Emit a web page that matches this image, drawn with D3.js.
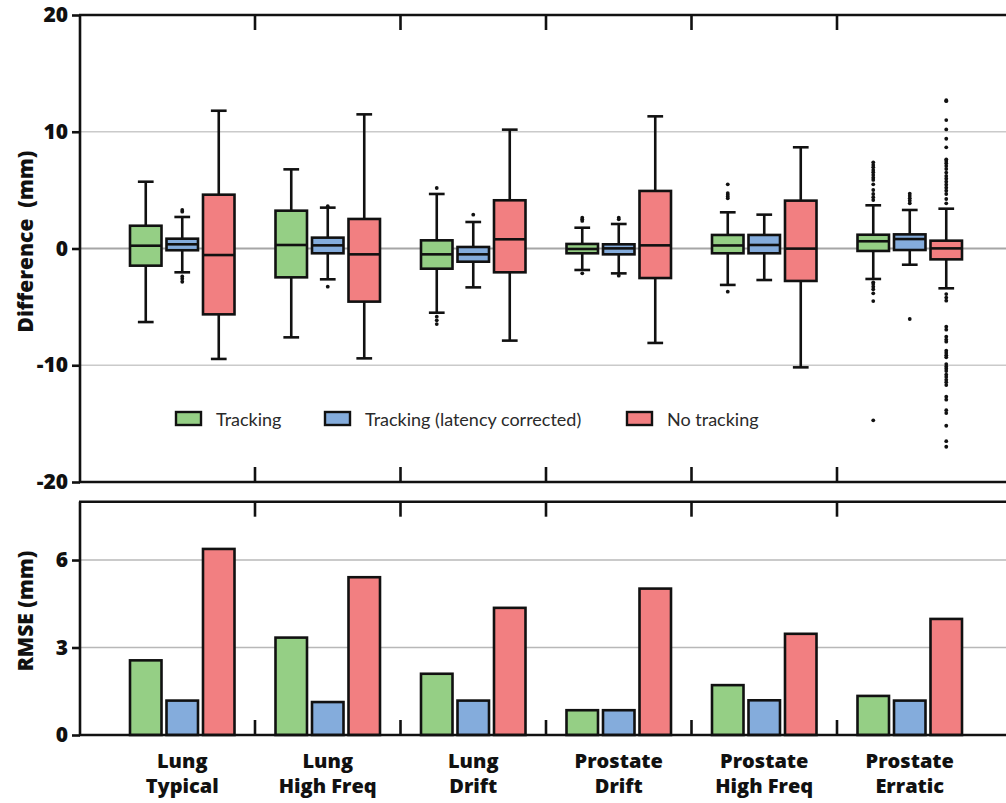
<!DOCTYPE html>
<html>
<head>
<meta charset="utf-8">
<script src="https://cdn.jsdelivr.net/npm/d3@7/dist/d3.min.js"></script>
<style>
  html, body { margin: 0; padding: 0; background: #fff; }
  svg { display: block; font-family: Lato, "Open Sans", sans-serif; }
  .heavy { font-family: "Open Sans", Lato, sans-serif; font-weight: 800; }
</style>
</head>
<body>
<svg id="chart" width="1006" height="803"></svg>
<script>
// ---- data ----
const categoryTop = ["Lung", "Lung", "Lung", "Prostate", "Prostate", "Prostate"];
const categoryBottom = ["Typical", "High Freq", "Drift", "Drift", "High Freq", "Erratic"];
const categories = categoryTop.map((t, i) => t + " " + categoryBottom[i]);
const seriesNames = ["Tracking", "Tracking (latency corrected)", "No tracking"];
const seriesColors = ["#95cf85", "#84acdc", "#f27f81"];

// box summaries per category: [lower whisker, Q1, median, Q3, upper whisker]
const trackingBox = [
  [-6.30, -1.47, 0.24, 1.95, 5.72],
  [-7.61, -2.47, 0.30, 3.24, 6.78],
  [-5.50, -1.73, -0.50, 0.70, 4.67],
  [-1.84, -0.41, -0.04, 0.39, 1.78],
  [-3.12, -0.41, 0.26, 1.16, 3.10],
  [-2.61, -0.21, 0.62, 1.18, 3.70]
];
const latencyBox = [
  [-2.04, -0.15, 0.36, 0.84, 2.70],
  [-2.64, -0.41, 0.27, 0.93, 3.50],
  [-3.33, -1.13, -0.50, 0.13, 2.27],
  [-2.13, -0.50, 0.01, 0.36, 2.10],
  [-2.70, -0.41, 0.30, 1.16, 2.90],
  [-1.39, -0.13, 0.81, 1.21, 3.30]
];
const noTrackingBox = [
  [-9.46, -5.64, -0.56, 4.61, 11.80],
  [-9.41, -4.55, -0.50, 2.53, 11.49],
  [-7.89, -2.04, 0.79, 4.13, 10.18],
  [-8.09, -2.53, 0.27, 4.93, 11.32],
  [-10.18, -2.78, -0.01, 4.10, 8.67],
  [-3.41, -0.93, 0.01, 0.67, 3.41]
];

// outlying points per category
const trackingOutliers = [
  [],
  [],
  [5.18, -5.84, -6.15, -6.47],
  [2.64, 2.50, 2.36, -2.13],
  [5.50, 4.75, 4.60, 4.45, 4.30, -3.70],
  [7.38, 7.15, 6.95, 6.72, 6.53, 6.30, 6.06, 5.87, 5.50, 5.01, 4.67, 4.39, 4.15,
   -2.90, -3.04, -3.27, -3.50, -3.84, -4.50, -14.72]
];
const latencyOutliers = [
  [3.30, 3.15, -2.40, -2.60, -2.85],
  [3.62, -3.27],
  [2.90],
  [2.64, 2.50, -2.33],
  [],
  [4.69, 4.50, 4.30, 4.10, 3.87, -6.04]
];
const noTrackingOutliers = [
  [],
  [],
  [],
  [],
  [],
  [12.70, 12.62, 11.00, 10.20, 9.40, 8.67, 7.64, 7.50, 7.30, 7.07, 6.81, 6.50, 6.21, 5.98,
   5.72, 5.46, 5.21, 4.95, 4.67, 4.24, 3.87,
   -3.90, -4.20, -4.47, -6.70, -6.95, -7.55, -7.80, -7.98, -8.75, -8.95, -9.15, -9.32,
   -9.90, -10.10, -10.30, -10.50, -10.80, -11.00, -11.25, -11.45, -11.70, -12.70, -12.95,
   -13.85, -14.10, -15.18, -16.50, -16.98]
];

// root mean square error per category
const trackingRmse = [2.56, 3.34, 2.10, 0.85, 1.71, 1.34];
const latencyRmse = [1.18, 1.13, 1.18, 0.85, 1.19, 1.18];
const noTrackingRmse = [6.38, 5.41, 4.36, 5.02, 3.47, 3.98];

const diffTicks = [-20, -10, 0, 10, 20];
const rmseTicks = [0, 3, 6];

const boxes = [trackingBox, latencyBox, noTrackingBox];
const outliers = [trackingOutliers, latencyOutliers, noTrackingOutliers];
const rmse = [trackingRmse, latencyRmse, noTrackingRmse];

// ---- layout ----
const svg = d3.select("#chart");
const W = 1006;
const axisX = 80;
const AXIS_W = 2.6;

const x = d3.scaleBand().domain(categories).range([109.5, 982.5]).padding(0);
const sub = d3.scaleBand().domain(seriesNames)
  .range([18, 127.5]).paddingInner(0.137).paddingOuter(0.0685);
const bw = sub.bandwidth();

const yTop = d3.scaleLinear().domain([-20, 20]).range([482, 15]);
const yBot = d3.scaleLinear().domain([0, 8]).range([735, 501.7]);

const boundaries = categories.slice(1).map(c => x(c));

// ---- upper panel: differences ----
const diffPanel = svg.append("g");

// grid lines
diffPanel.selectAll("line.grid").data([-10, 10]).join("line")
  .attr("x1", axisX).attr("x2", W)
  .attr("y1", d => yTop(d)).attr("y2", d => yTop(d))
  .attr("stroke", "#cacaca").attr("stroke-width", 1.3);
diffPanel.append("line")
  .attr("x1", axisX).attr("x2", W)
  .attr("y1", yTop(0)).attr("y2", yTop(0))
  .attr("stroke", "#a6a6a6").attr("stroke-width", 1.8);

// box plots
seriesNames.forEach((s, si) => {
  const g = diffPanel.append("g");
  categories.forEach((c, ci) => {
    const [lo, q1, med, q3, hi] = boxes[si][ci];
    const cx = x(c) + sub(s) + bw / 2;
    const capW = bw * 0.5;
    const gg = g.append("g")
      .attr("stroke", "#111").attr("stroke-width", 2.6).attr("fill", "none");
    gg.append("line").attr("x1", cx).attr("x2", cx).attr("y1", yTop(hi)).attr("y2", yTop(q3));
    gg.append("line").attr("x1", cx).attr("x2", cx).attr("y1", yTop(q1)).attr("y2", yTop(lo));
    gg.append("line").attr("x1", cx - capW / 2).attr("x2", cx + capW / 2)
      .attr("y1", yTop(hi)).attr("y2", yTop(hi));
    gg.append("line").attr("x1", cx - capW / 2).attr("x2", cx + capW / 2)
      .attr("y1", yTop(lo)).attr("y2", yTop(lo));
    gg.append("rect")
      .attr("x", cx - bw / 2).attr("width", bw)
      .attr("y", yTop(q3)).attr("height", yTop(q1) - yTop(q3))
      .attr("fill", seriesColors[si]);
    gg.append("line").attr("x1", cx - bw / 2).attr("x2", cx + bw / 2)
      .attr("y1", yTop(med)).attr("y2", yTop(med));
    g.selectAll(null).data(outliers[si][ci]).join("circle")
      .attr("cx", cx).attr("cy", d => yTop(d)).attr("r", 1.9).attr("fill", "#111");
  });
});

// frame and axes
diffPanel.append("line").attr("x1", axisX - 1).attr("x2", W).attr("y1", 15).attr("y2", 15)
  .attr("stroke", "#111").attr("stroke-width", AXIS_W);
diffPanel.append("line").attr("x1", axisX - 1).attr("x2", W).attr("y1", 482).attr("y2", 482)
  .attr("stroke", "#111").attr("stroke-width", AXIS_W);
diffPanel.selectAll("line.tt").data(boundaries).join("line")
  .attr("x1", d => d).attr("x2", d => d).attr("y1", 15).attr("y2", 30)
  .attr("stroke", "#111").attr("stroke-width", AXIS_W);
diffPanel.selectAll("line.tb").data(boundaries).join("line")
  .attr("x1", d => d).attr("x2", d => d).attr("y1", 482).attr("y2", 467)
  .attr("stroke", "#111").attr("stroke-width", AXIS_W);

const yAxisTop = d3.axisLeft(yTop).tickValues(diffTicks).tickSize(8).tickPadding(4)
  .tickFormat(d => String(d));
const gyt = diffPanel.append("g").attr("transform", `translate(${axisX},0)`).call(yAxisTop);
gyt.select(".domain").attr("stroke", "#111").attr("stroke-width", AXIS_W)
  .attr("d", `M0,${yTop(20)}V${yTop(-20)}`);
gyt.selectAll(".tick line").attr("stroke", "#111").attr("stroke-width", AXIS_W);
gyt.selectAll(".tick text").attr("class", "heavy").attr("font-size", 21).attr("fill", "#111");

diffPanel.append("text").attr("class", "heavy")
  .attr("transform", `translate(33,${yTop(0) - 7}) rotate(-90)`)
  .attr("text-anchor", "middle").attr("font-size", 21)
  .attr("fill", "#111").style("white-space", "pre")
  .text("Difference  (mm)");

// legend
const legendX = [176, 325, 627];
const legend = diffPanel.append("g");
seriesNames.forEach((s, i) => {
  legend.append("rect").attr("x", legendX[i]).attr("y", 412).attr("width", 25).attr("height", 13)
    .attr("fill", seriesColors[i]).attr("stroke", "#111").attr("stroke-width", 2.4);
  legend.append("text").attr("x", legendX[i] + 40).attr("y", 426)
    .attr("font-size", 18).attr("fill", "#2a2a2a").text(s);
});

// ---- lower panel: RMSE ----
const rmsePanel = svg.append("g");
rmsePanel.selectAll("line.grid").data([3, 6]).join("line")
  .attr("x1", axisX).attr("x2", W)
  .attr("y1", d => yBot(d)).attr("y2", d => yBot(d))
  .attr("stroke", "#b8b8b8").attr("stroke-width", 1.6);

seriesNames.forEach((s, si) => {
  rmsePanel.append("g").selectAll("rect").data(rmse[si]).join("rect")
    .attr("x", (d, i) => x(categories[i]) + sub(s))
    .attr("width", bw)
    .attr("y", d => yBot(d))
    .attr("height", d => yBot(0) - yBot(d))
    .attr("fill", seriesColors[si])
    .attr("stroke", "#111").attr("stroke-width", 2.6);
});

rmsePanel.append("line").attr("x1", axisX - 1).attr("x2", W).attr("y1", yBot(8)).attr("y2", yBot(8))
  .attr("stroke", "#111").attr("stroke-width", AXIS_W);
rmsePanel.append("line").attr("x1", axisX - 1).attr("x2", W).attr("y1", yBot(0)).attr("y2", yBot(0))
  .attr("stroke", "#111").attr("stroke-width", AXIS_W);
rmsePanel.selectAll("line.tt").data(boundaries).join("line")
  .attr("x1", d => d).attr("x2", d => d).attr("y1", yBot(8)).attr("y2", yBot(8) + 15)
  .attr("stroke", "#111").attr("stroke-width", AXIS_W);
rmsePanel.selectAll("line.tb").data(boundaries).join("line")
  .attr("x1", d => d).attr("x2", d => d).attr("y1", yBot(0)).attr("y2", yBot(0) - 15)
  .attr("stroke", "#111").attr("stroke-width", AXIS_W);

const yAxisBot = d3.axisLeft(yBot).tickValues(rmseTicks).tickSize(8).tickPadding(4)
  .tickFormat(d => String(d));
const gyb = rmsePanel.append("g").attr("transform", `translate(${axisX},0)`).call(yAxisBot);
gyb.select(".domain").attr("stroke", "#111").attr("stroke-width", AXIS_W)
  .attr("d", `M0,${yBot(8)}V${yBot(0)}`);
gyb.selectAll(".tick line").attr("stroke", "#111").attr("stroke-width", AXIS_W);
gyb.selectAll(".tick text").attr("class", "heavy").attr("font-size", 21).attr("fill", "#111");

rmsePanel.append("text").attr("class", "heavy")
  .attr("transform", `translate(33,611) rotate(-90)`)
  .attr("text-anchor", "middle").attr("font-size", 21)
  .attr("fill", "#111").text("RMSE (mm)");

// category labels
const labels = rmsePanel.append("g").attr("class", "heavy").attr("font-size", 20)
  .attr("fill", "#111").attr("text-anchor", "middle");
categories.forEach((c, i) => {
  const cx = x(c) + x.bandwidth() / 2;
  labels.append("text").attr("x", cx).attr("y", 768).text(categoryTop[i]);
  labels.append("text").attr("x", cx).attr("y", 793).text(categoryBottom[i]);
});
</script>
</body>
</html>
